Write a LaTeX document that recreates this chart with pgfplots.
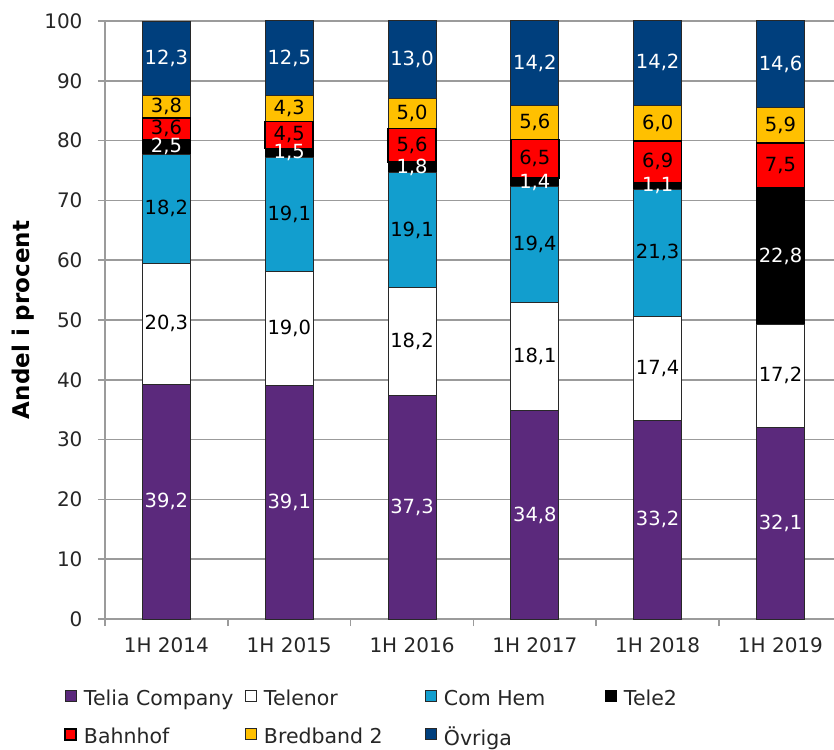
\documentclass[border=0pt]{standalone}
\usepackage{pgfplots}
\usepackage{pgfplotstable}
\pgfplotsset{compat=1.18}
\usepackage{fontspec}
\setmainfont{DejaVu Sans}

\definecolor{telia}{RGB}{91,41,124}
\definecolor{comhem}{RGB}{18,158,206}
\definecolor{bahnhof}{RGB}{255,0,0}
\definecolor{bredband}{RGB}{255,192,0}
\definecolor{ovriga}{RGB}{0,63,125}
\definecolor{gridgray}{RGB}{155,155,155}
\definecolor{edge}{RGB}{40,40,40}

% andel i procent per operator, 1H 2014 -- 1H 2019
\pgfplotstableread{
x telia telenor comhem teletwo bahnhof bredband ovriga
0 39.2 20.3 18.2  2.5 3.6 3.8 12.3
1 39.1 19.0 19.1  1.5 4.5 4.3 12.5
2 37.3 18.2 19.1  1.8 5.6 5.0 13.0
3 34.8 18.1 19.4  1.4 6.5 5.6 14.2
4 33.2 17.4 21.3  1.1 6.9 6.0 14.2
5 32.1 17.2  0.0 22.8 7.5 5.9 14.6
}\shares

% segment labels, at the middle of each segment
\pgfplotstableread{
x y lbl
0 19.60 39,2
1 19.55 39,1
2 18.65 37,3
3 17.40 34,8
4 16.60 33,2
5 16.05 32,1
0 78.95 2,5
1 77.95 1,5
2 75.50 1,8
3 73.00 1,4
4 72.45 1,1
5 60.70 22,8
0 93.75 12,3
1 93.75 12,5
2 93.50 13,0
3 92.90 14,2
4 93.00 14,2
5 92.80 14,6
}\whitelabels

\pgfplotstableread{
x y lbl
0 49.35 20,3
1 48.60 19,0
2 46.40 18,2
3 43.85 18,1
4 41.90 17,4
5 40.70 17,2
0 68.60 18,2
1 67.65 19,1
2 65.05 19,1
3 62.60 19,4
4 61.25 21,3
0 82.00 3,6
1 80.95 4,5
2 79.20 5,6
3 76.95 6,5
4 76.45 6,9
5 75.85 7,5
0 85.70 3,8
1 85.35 4,3
2 84.50 5,0
3 83.00 5,6
4 82.90 6,0
5 82.55 5,9
}\blacklabels

\pgfplotsset{
  frame/.style={
    scale only axis,
    width=729pt,
    height=598pt,
    ymin=0, ymax=100,
    xmin=-0.5, xmax=5.436,
    enlargelimits=false,
  },
  segment/.style={draw=edge, line width=1pt, fill=#1},
}

\begin{document}
\begin{tikzpicture}
\path[use as bounding box] (-105pt,-130pt) rectangle (729pt,619pt);
\begin{axis}[
    frame,
    ybar stacked,
    bar width=48pt,
    axis lines=left,
    axis line style={-, draw=gridgray, line width=1.6pt},
    ytick={0,10,...,100},
    xtick={-0.5,0.5,...,5.5},
    xticklabels={,,,,,,},
    extra x ticks={0,1,2,3,4,5},
    extra x tick labels={1H 2014,1H 2015,1H 2016,1H 2017,1H 2018,1H 2019},
    extra x tick style={major tick length=0pt},
    tick align=outside,
    major tick length=7pt,
    tick style={draw=gridgray, line width=1.6pt},
    ymajorgrids,
    grid style={draw=gridgray, line width=1.6pt},
    /pgf/number format/assume math mode=true,
    tick label style={font=\fontsize{20}{24}\selectfont, text=black!85},
    yticklabel style={xshift=-12pt},
    xticklabel style={yshift=-15pt},
    ylabel={Andel i procent},
    every axis y label/.style={at={(axis description cs:-0.1035,0.5)},
        rotate=90, anchor=base, font=\bfseries\fontsize{23}{28}\selectfont},
    legend image code/.code={\draw[#1] (0pt,-3pt) rectangle (11pt,8pt);},
    legend columns=4,
    legend cell align=left,
    legend style={at={(axis description cs:-0.0560,-0.1145)}, anchor=north west,
        draw=none, fill=none, inner sep=0pt, column sep=0pt, row sep=16pt,
        font=\fontsize{20.5}{24}\selectfont, text=black!85},
]
\addplot[segment=telia] table[x=x, y=telia] {\shares};
\addlegendentry{\hspace*{5pt}\makebox[159pt][l]{Telia Company}}
\addplot[segment=white] table[x=x, y=telenor] {\shares};
\addlegendentry{\hspace*{5pt}\makebox[159pt][l]{Telenor}}
\addplot[segment=comhem] table[x=x, y=comhem] {\shares};
\addlegendentry{\hspace*{5pt}\makebox[159pt][l]{Com Hem}}
\addplot[segment=black, draw=black] table[x=x, y=teletwo] {\shares};
\addlegendentry{\hspace*{5pt}\makebox[159pt][l]{Tele2}}
\addplot[segment=bahnhof, draw=black, line width=1.6pt] table[x=x, y=bahnhof] {\shares};
\addlegendentry{\hspace*{5pt}\makebox[159pt][l]{Bahnhof}}
\addplot[segment=bredband] table[x=x, y=bredband] {\shares};
\addlegendentry{\hspace*{5pt}\makebox[159pt][l]{Bredband 2}}
\addplot[segment=ovriga] table[x=x, y=ovriga] {\shares};
\addlegendentry{\hspace*{5pt}\makebox[159pt][l]{Övriga}}
\end{axis}
\begin{axis}[
    frame,
    hide axis,
    clip=false,
    every node near coord/.append style={anchor=center,
        font=\fontsize{19.5}{24}\selectfont},
]
\addplot[draw=none, mark=none, nodes near coords, point meta=explicit symbolic,
    every node near coord/.append style={text=white}]
    table[x=x, y=y, meta=lbl] {\whitelabels};
\addplot[draw=none, mark=none, nodes near coords, point meta=explicit symbolic,
    every node near coord/.append style={text=black}]
    table[x=x, y=y, meta=lbl] {\blacklabels};
\end{axis}
\end{tikzpicture}
\end{document}
